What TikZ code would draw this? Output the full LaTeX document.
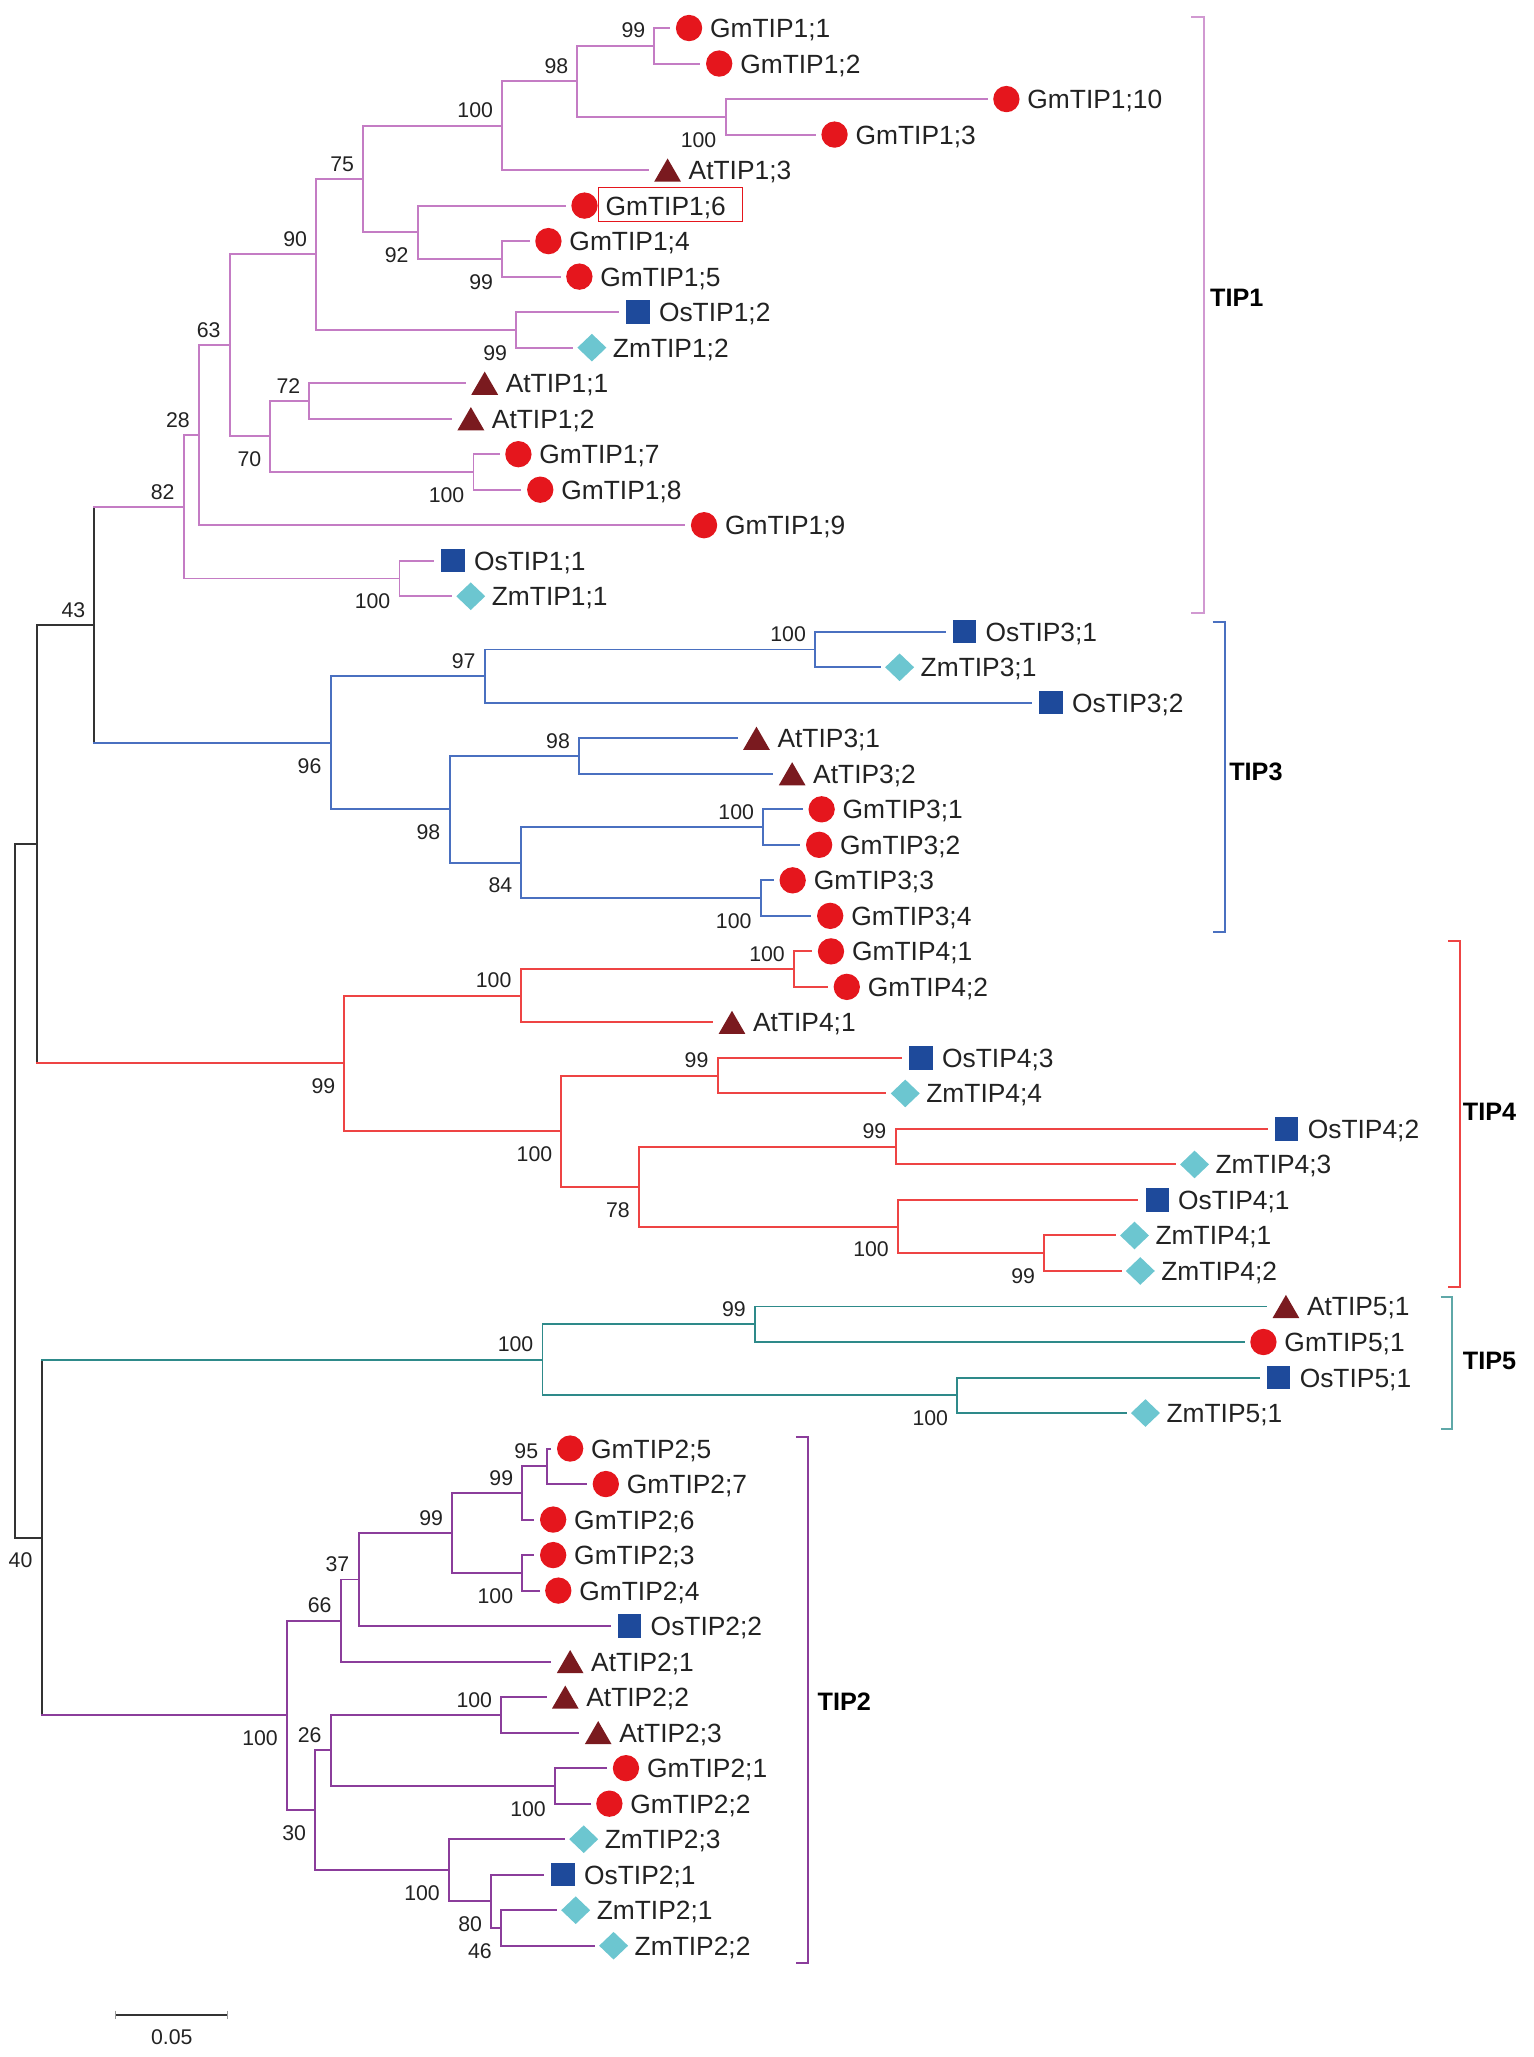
\documentclass[tikz,border=0pt]{standalone}
\usepackage{fontspec}
\setmainfont{Liberation Sans}
\usetikzlibrary{shapes.geometric,calc}
\definecolor{cA}{HTML}{C47CC4}
\definecolor{cAb}{HTML}{D199D1}
\definecolor{cB}{HTML}{8B3D9B}
\definecolor{cC}{HTML}{4A70C0}
\definecolor{cD}{HTML}{EE4444}
\definecolor{cE}{HTML}{2E8A8A}
\definecolor{cEb}{HTML}{5FA8A8}
\definecolor{cK}{HTML}{333333}
\definecolor{sR}{HTML}{E5161D}
\definecolor{sT}{HTML}{7A1A1F}
\definecolor{sS}{HTML}{1E4A9B}
\definecolor{sD}{HTML}{6CC6D0}
\definecolor{txt}{HTML}{222222}
\newcommand\TLeaf[5]{%
  \pgfmathsetmacro\tly{21.3+26.97*#2}%
  \coordinate (#1) at ({#3-15},\tly);
  \node[#4] (#1s) at (#3,\tly) {};
  \node[leaflab] (#1t) at ({#3+16},{\tly+7.2}) {#5};
}
\newcommand\TNode[4]{%
  \coordinate (#1x) at (#2,0);
  \coordinate (#1m) at ($(#3)!0.5!(#4)$);
  \coordinate (#1) at (#1m -| #1x);
}
\newcommand\TJoin[4]{\draw[br,#1] (#3) -| (#2) |- (#4);}
\newcommand\TCross[6]{%
  \draw[br,#1] (#2|-#3) -- (#2|-#5);
  \draw[br,#4] (#2|-#3) -- (#3);
  \draw[br,#6] (#2|-#5) -- (#5);
}
\newcommand\BSa[2]{\node[bs] (b#1) at ($(#1)+(-7,-11.5)$) {#2};}
\newcommand\BSb[2]{\node[bs] (b#1) at ($(#1)+(-7,17.5)$) {#2};}
\begin{document}
\begin{tikzpicture}[x=0.02cm,y=-0.02cm,
  br/.style={line width=0.85pt,line cap=rect},
  leaflab/.style={anchor=base west,inner sep=0,outer sep=0,text=txt,font=\fontsize{11.4}{13}\selectfont},
  bs/.style={anchor=east,inner sep=0,outer sep=0,text=txt,font=\fontsize{9.2}{11}\selectfont},
  clab/.style={anchor=west,inner sep=0,outer sep=0,text=black,font=\fontsize{10.9}{13}\selectfont\bfseries},
  circ/.style={circle,fill=sR,minimum size=0.4cm,inner sep=0,outer sep=0},
  sq/.style={rectangle,fill=sS,minimum size=0.354cm,inner sep=0,outer sep=0},
  dia/.style={diamond,fill=sD,minimum width=0.44cm,minimum height=0.42cm,inner sep=0,outer sep=0},
  tri/.style={regular polygon,regular polygon sides=3,fill=sT,minimum size=0.47cm,inner sep=0,outer sep=0,anchor=south,yshift=-0.176cm},
  bracket/.style={line width=0.85pt}]
\useasboundingbox (0,0) rectangle (1165,1562.2);
% ---------- leaves ----------
\TLeaf{g11}{0}{523.3}{circ}{GmTIP1;1}
\TLeaf{g12}{1}{546.2}{circ}{GmTIP1;2}
\TLeaf{g110}{2}{764.3}{circ}{GmTIP1;10}
\TLeaf{g13}{3}{633.8}{circ}{GmTIP1;3}
\TLeaf{a13}{4}{507}{tri}{AtTIP1;3}
\TLeaf{g16}{5}{443.9}{circ}{GmTIP1;6}
\TLeaf{g14}{6}{416.5}{circ}{GmTIP1;4}
\TLeaf{g15}{7}{440}{circ}{GmTIP1;5}
\TLeaf{o12}{8}{484.5}{sq}{OsTIP1;2}
\TLeaf{z12}{9}{449.5}{dia}{ZmTIP1;2}
\TLeaf{a11}{10}{368.1}{tri}{AtTIP1;1}
\TLeaf{a12}{11}{357.6}{tri}{AtTIP1;2}
\TLeaf{g17}{12}{393.7}{circ}{GmTIP1;7}
\TLeaf{g18}{13}{410.3}{circ}{GmTIP1;8}
\TLeaf{g19}{14}{534.7}{circ}{GmTIP1;9}
\TLeaf{o11}{15}{344.1}{sq}{OsTIP1;1}
\TLeaf{z11}{16}{357.5}{dia}{ZmTIP1;1}
\TLeaf{o31}{17}{732.6}{sq}{OsTIP3;1}
\TLeaf{z31}{18}{683.2}{dia}{ZmTIP3;1}
\TLeaf{o32}{19}{798.2}{sq}{OsTIP3;2}
\TLeaf{a31}{20}{574.5}{tri}{AtTIP3;1}
\TLeaf{a32}{21}{601.6}{tri}{AtTIP3;2}
\TLeaf{g31}{22}{624}{circ}{GmTIP3;1}
\TLeaf{g32}{23}{622.1}{circ}{GmTIP3;2}
\TLeaf{g33}{24}{602}{circ}{GmTIP3;3}
\TLeaf{g34}{25}{630.5}{circ}{GmTIP3;4}
\TLeaf{g41}{26}{631.1}{circ}{GmTIP4;1}
\TLeaf{g42}{27}{643.1}{circ}{GmTIP4;2}
\TLeaf{a41}{28}{555.9}{tri}{AtTIP4;1}
\TLeaf{o43}{29}{699.5}{sq}{OsTIP4;3}
\TLeaf{z44}{30}{687.5}{dia}{ZmTIP4;4}
\TLeaf{o42}{31}{977.2}{sq}{OsTIP4;2}
\TLeaf{z43}{32}{907.2}{dia}{ZmTIP4;3}
\TLeaf{o41}{33}{878.8}{sq}{OsTIP4;1}
\TLeaf{z41}{34}{861.6}{dia}{ZmTIP4;1}
\TLeaf{z42}{35}{866}{dia}{ZmTIP4;2}
\TLeaf{a51}{36}{976.6}{tri}{AtTIP5;1}
\TLeaf{g51}{37}{959.5}{circ}{GmTIP5;1}
\TLeaf{o51}{38}{971.1}{sq}{OsTIP5;1}
\TLeaf{z51}{39}{869.9}{dia}{ZmTIP5;1}
\TLeaf{g25}{40}{433}{circ}{GmTIP2;5}
\TLeaf{g27}{41}{460.1}{circ}{GmTIP2;7}
\TLeaf{g26}{42}{420.1}{circ}{GmTIP2;6}
\TLeaf{g23}{43}{420.1}{circ}{GmTIP2;3}
\TLeaf{g24}{44}{424}{circ}{GmTIP2;4}
\TLeaf{o22}{45}{478.2}{sq}{OsTIP2;2}
\TLeaf{a21}{46}{433}{tri}{AtTIP2;1}
\TLeaf{a22}{47}{429.3}{tri}{AtTIP2;2}
\TLeaf{a23}{48}{454.3}{tri}{AtTIP2;3}
\TLeaf{g21}{49}{475.4}{circ}{GmTIP2;1}
\TLeaf{g22}{50}{462.8}{circ}{GmTIP2;2}
\TLeaf{z23}{51}{443.3}{dia}{ZmTIP2;3}
\TLeaf{o21}{52}{427.6}{sq}{OsTIP2;1}
\TLeaf{z21}{53}{437.2}{dia}{ZmTIP2;1}
\TLeaf{z22}{54}{466}{dia}{ZmTIP2;2}
% ---------- internal nodes ----------
% TIP1
\TNode{n1}{497}{g11}{g12}
\TNode{n2}{551}{g110}{g13}
\TNode{n3}{438.5}{n1}{n2}
\TNode{n4}{381.4}{n3}{a13}
\TNode{n5}{381.4}{g14}{g15}
\TNode{n6}{317.3}{g16}{n5}
\TNode{n7}{275.8}{n4}{n6}
\TNode{n8}{392}{o12}{z12}
\TNode{n9}{240.2}{n7}{n8}
\TNode{n10}{235}{a11}{a12}
\TNode{n11}{359.6}{g17}{g18}
\TNode{n12}{205.4}{n10}{n11}
\TNode{n13}{174.4}{n9}{n12}
\TNode{n14}{151.1}{n13}{g19}
\TNode{n15}{303.4}{o11}{z11}
\TNode{n16}{139.5}{n14}{n15}
% TIP3
\TNode{m1}{619}{o31}{z31}
\TNode{m2}{368.1}{m1}{o32}
\TNode{m3}{439.8}{a31}{a32}
\TNode{m4}{579.6}{g31}{g32}
\TNode{m5}{577.7}{g33}{g34}
\TNode{m6}{396}{m4}{m5}
\TNode{m7}{341.4}{m3}{m6}
\TNode{m8}{251.1}{m2}{m7}
\TNode{r43}{71.7}{n16}{m8}
% TIP4
\TNode{k1}{603}{g41}{g42}
\TNode{k2}{395.4}{k1}{a41}
\TNode{k3}{545}{o43}{z44}
\TNode{k4}{680.1}{o42}{z43}
\TNode{k5}{793}{z41}{z42}
\TNode{k6}{682}{o41}{k5}
\TNode{k7}{485.3}{k4}{k6}
\TNode{k8}{426.4}{k3}{k7}
\TNode{k9}{261.6}{k2}{k8}
\TNode{r28}{28}{r43}{k9}
% TIP5
\TNode{t1}{573.3}{a51}{g51}
\TNode{t2}{727}{o51}{z51}
\TNode{t3}{412}{t1}{t2}
% TIP2
\TNode{p1}{415.7}{g25}{g27}
\TNode{p2}{396.7}{p1}{g26}
\TNode{p3}{396.7}{g23}{g24}
\TNode{p4}{343.4}{p2}{p3}
\TNode{p5}{272.3}{p4}{o22}
\TNode{p6}{258.7}{p5}{a21}
\TNode{p7}{380.7}{a22}{a23}
\TNode{p8}{421.5}{g21}{g22}
\TNode{p9}{251.2}{p7}{p8}
\TNode{p10}{380.5}{z21}{z22}
\TNode{p11}{373}{o21}{p10}
\TNode{p12}{341}{z23}{p11}
\TNode{p13}{239.4}{p9}{p12}
\TNode{p14}{218}{p6}{p13}
\TNode{r32}{31.6}{t3}{p14}
\TNode{root}{11.2}{r28}{r32}
% ---------- branches ----------
\TJoin{cA}{n1}{g11}{g12}
\TJoin{cA}{n2}{g110}{g13}
\TJoin{cA}{n3}{n1}{n2}
\TJoin{cA}{n4}{n3}{a13}
\TJoin{cA}{n5}{g14}{g15}
\TJoin{cA}{n6}{g16}{n5}
\TJoin{cA}{n7}{n4}{n6}
\TJoin{cA}{n8}{o12}{z12}
\TJoin{cA}{n9}{n7}{n8}
\TJoin{cA}{n10}{a11}{a12}
\TJoin{cA}{n11}{g17}{g18}
\TJoin{cA}{n12}{n10}{n11}
\TJoin{cA}{n13}{n9}{n12}
\TJoin{cA}{n14}{n13}{g19}
\TJoin{cA}{n15}{o11}{z11}
\TJoin{cA}{n16}{n14}{n15}
\TJoin{cC}{m1}{o31}{z31}
\TJoin{cC}{m2}{m1}{o32}
\TJoin{cC}{m3}{a31}{a32}
\TJoin{cC}{m4}{g31}{g32}
\TJoin{cC}{m5}{g33}{g34}
\TJoin{cC}{m6}{m4}{m5}
\TJoin{cC}{m7}{m3}{m6}
\TJoin{cC}{m8}{m2}{m7}
\TCross{cK}{r43}{n16}{cA}{m8}{cC}
\TJoin{cD}{k1}{g41}{g42}
\TJoin{cD}{k2}{k1}{a41}
\TJoin{cD}{k3}{o43}{z44}
\TJoin{cD}{k4}{o42}{z43}
\TJoin{cD}{k5}{z41}{z42}
\TJoin{cD}{k6}{o41}{k5}
\TJoin{cD}{k7}{k4}{k6}
\TJoin{cD}{k8}{k3}{k7}
\TJoin{cD}{k9}{k2}{k8}
\TCross{cK}{r28}{r43}{cK}{k9}{cD}
\TJoin{cE}{t1}{a51}{g51}
\TJoin{cE}{t2}{o51}{z51}
\TJoin{cE}{t3}{t1}{t2}
\TJoin{cB}{p1}{g25}{g27}
\TJoin{cB}{p2}{p1}{g26}
\TJoin{cB}{p3}{g23}{g24}
\TJoin{cB}{p4}{p2}{p3}
\TJoin{cB}{p5}{p4}{o22}
\TJoin{cB}{p6}{p5}{a21}
\TJoin{cB}{p7}{a22}{a23}
\TJoin{cB}{p8}{g21}{g22}
\TJoin{cB}{p9}{p7}{p8}
\TJoin{cB}{p10}{z21}{z22}
\TJoin{cB}{p11}{o21}{p10}
\TJoin{cB}{p12}{z23}{p11}
\TJoin{cB}{p13}{p9}{p12}
\TJoin{cB}{p14}{p6}{p13}
\TCross{cK}{r32}{t3}{cE}{p14}{cB}
\TCross{cK}{root}{r28}{cK}{r32}{cK}
% ---------- bootstrap values ----------
\BSa{n1}{99}
\BSb{n2}{100}
\BSa{n3}{98}
\BSa{n4}{100}
\BSb{n5}{99}
\BSb{n6}{92}
\BSa{n7}{75}
\BSb{n8}{99}
\BSa{n9}{90}
\BSa{n10}{72}
\BSb{n11}{100}
\BSb{n12}{70}
\BSa{n13}{63}
\BSa{n14}{28}
\BSb{n15}{100}
\BSa{n16}{82}
\BSa{m1}{100}
\BSa{m2}{97}
\BSa{m3}{98}
\BSa{m4}{100}
\BSb{m5}{100}
\BSb{m6}{84}
\BSb{m7}{98}
\BSb{m8}{96}
\BSa{r43}{43}
\BSa{k1}{100}
\BSa{k2}{100}
\BSa{k3}{99}
\BSa{k4}{99}
\BSb{k5}{99}
\BSb{k6}{100}
\BSb{k7}{78}
\BSb{k8}{100}
\BSb{k9}{99}
\BSa{t1}{99}
\BSb{t2}{100}
\BSa{t3}{100}
\BSa{p1}{95}
\BSa{p2}{99}
\BSb{p3}{100}
\BSa{p4}{99}
\BSa{p5}{37}
\BSa{p6}{66}
\BSa{p7}{100}
\BSb{p8}{100}
\BSa{p9}{26}
\BSb{p10}{46}
\BSb{p11}{80}
\BSb{p12}{100}
\BSb{p13}{30}
\BSb{p14}{100}
\BSb{r32}{40}
% ---------- highlighted label ----------
\node[draw=sR,line width=0.6pt,minimum width=2.188cm,minimum height=0.522cm,inner sep=0] (box16) at (509.3,155.35) {};
% ---------- clade brackets ----------
\draw[bracket,cAb] (904.5,13) -- (914.5,13) -- (914.5,465.5) -- (904.5,465.5);
\node[clab] (lTIP1) at (919,226.3) {TIP1};
\draw[bracket,cC] (921,472.2) -- (930,472.2) -- (930,707.6) -- (921,707.6);
\node[clab] (lTIP3) at (933.6,586.1) {TIP3};
\draw[bracket,cD] (1100,714.4) -- (1109,714.4) -- (1109,977.5) -- (1100,977.5);
\node[clab] (lTIP4) at (1111,844) {TIP4};
\draw[bracket,cEb] (1094,984.8) -- (1103,984.8) -- (1103,1085.5) -- (1094,1085.5);
\node[clab] (lTIP5) at (1111,1033.4) {TIP5};
\draw[bracket,cB] (604.5,1091.6) -- (613.9,1091.6) -- (613.9,1490.6) -- (604.5,1490.6);
\node[clab] (lTIP2) at (621,1292.4) {TIP2};
% ---------- scale bar ----------
\coordinate (sb1) at (88,1530);
\coordinate (sb2) at (173,1530);
\draw[line width=0.9pt,cK] (sb1) -- (sb2);
\draw[line width=0.4pt,black!40] (sb1) ++(0,-3) -- ++(0,6);
\draw[line width=0.4pt,black!40] (sb2) ++(0,-3) -- ++(0,6);
\node[bs,anchor=center] (sblab) at (130.5,1547) {0.05};
\end{tikzpicture}
\end{document}
